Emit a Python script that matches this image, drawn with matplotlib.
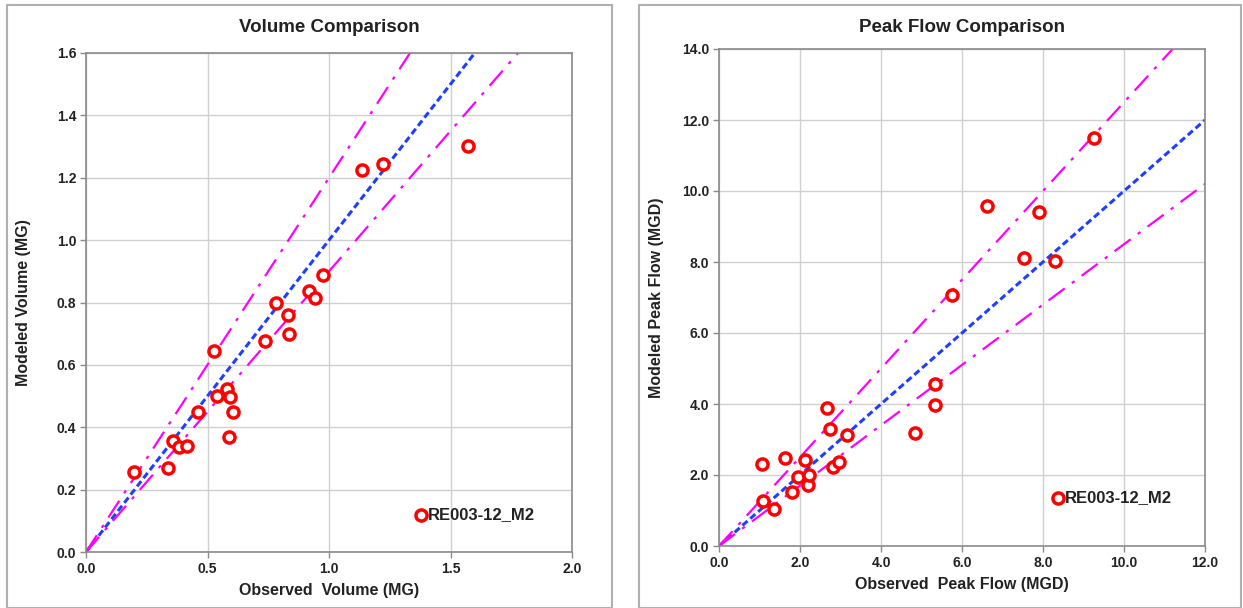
import matplotlib
matplotlib.use("Agg")
import matplotlib.pyplot as plt
from matplotlib.patches import Rectangle
import numpy as np

plt.rcParams['font.family'] = ['Liberation Sans', 'DejaVu Sans']
plt.rcParams['font.weight'] = 'bold'

series_name = "RE003-12_M2"

vol_obs = [0.199, 0.337, 0.357, 0.381, 0.417, 0.460, 0.526, 0.541, 0.579, 0.593, 0.603,
           0.590, 0.738, 0.782, 0.831, 0.835, 0.918, 0.941, 0.976, 1.136, 1.222, 1.570]
vol_mod = [0.258, 0.268, 0.357, 0.336, 0.341, 0.448, 0.646, 0.500, 0.523, 0.498, 0.448,
           0.369, 0.675, 0.797, 0.760, 0.700, 0.837, 0.816, 0.887, 1.226, 1.245, 1.301]

peak_obs = [1.07, 1.08, 1.37, 1.64, 1.81, 1.95, 2.13, 2.19, 2.21, 2.66, 2.75, 2.82,
            2.97, 3.15, 4.84, 5.33, 5.34, 5.76, 6.62, 7.53, 7.89, 8.30, 9.25]
peak_mod = [2.31, 1.26, 1.03, 2.47, 1.52, 1.95, 2.41, 1.73, 2.00, 3.90, 3.29, 2.22,
            2.36, 3.14, 3.18, 3.98, 4.56, 7.08, 9.59, 8.11, 9.42, 8.03, 11.50]

vol_bounds = [1.2, 0.9]     # upper / lower envelope factors
peak_bounds = [1.25, 0.85]

vol_xticks = [0.0, 0.5, 1.0, 1.5, 2.0]
vol_yticks = [0.0, 0.2, 0.4, 0.6, 0.8, 1.0, 1.2, 1.4, 1.6]
peak_xticks = [0.0, 2.0, 4.0, 6.0, 8.0, 10.0, 12.0]
peak_yticks = [0.0, 2.0, 4.0, 6.0, 8.0, 10.0, 12.0, 14.0]

W, H = 1243, 608
fig = plt.figure(figsize=(W / 100, H / 100), dpi=100)

# panel borders
for (x0, x1) in [(7, 612), (639, 1241)]:
    fig.patches.append(Rectangle((x0 / W, 0), (x1 - x0) / W, 1 - 5 / H,
                                 transform=fig.transFigure, fill=False,
                                 edgecolor='#b0b0b0', linewidth=1.5))

txt = '#222222'


def make_panel(px, obs, mod, bounds, xmax, ymax, xticks, yticks, title, xlabel, ylabel,
               title_y, xlabel_y, ylabel_x, legend_px):
    l, r, t, b = px
    ax = fig.add_axes([l / W, 1 - b / H, (r - l) / W, (b - t) / H])
    ax.set_xlim(0, xmax)
    ax.set_ylim(0, ymax)
    ax.set_xticks(xticks)
    ax.set_yticks(yticks)
    ax.set_xticklabels([f"{v:.1f}" for v in xticks], fontsize=10, fontweight='bold', color=txt)
    ax.set_yticklabels([f"{v:.1f}" for v in yticks], fontsize=10, fontweight='bold', color=txt)
    ax.grid(True, color='#d0d0d0', linewidth=1.0)
    ax.set_axisbelow(True)
    for s in ax.spines.values():
        s.set_color('#8a8a8a')
        s.set_linewidth(1.2)
    ax.tick_params(direction='out', length=4, color='#8a8a8a', width=1, pad=3)
    xs = np.array([0, xmax])
    ax.plot(xs, xs, color='#1f3fff', linestyle=(0, (2.2, 1.2)), linewidth=2.2, zorder=2)
    for bf in bounds:
        ax.plot(xs, bf * xs, color='#ff00ff', linestyle=(0, (9, 4, 1.5, 4)), linewidth=1.6, zorder=2)
    ax.plot(obs, mod, linestyle='none', marker='o', markersize=8, markerfacecolor='white',
            markeredgecolor='#ff0000', markeredgewidth=2.5, label=series_name, zorder=3)
    fig.text((l + r) / 2 / W, 1 - title_y / H, title, ha='center', va='center',
             fontsize=13.5, fontweight='bold', color=txt)
    fig.text((l + r) / 2 / W, 1 - xlabel_y / H, xlabel, ha='center', va='center',
             fontsize=11.5, fontweight='bold', color=txt)
    fig.text(ylabel_x / W, 1 - (t + b) / 2 / H, ylabel, ha='center', va='center',
             rotation=90, fontsize=11.5, fontweight='bold', color=txt)
    mx, my = legend_px
    ax_x = (mx - l) / (r - l)
    ax_y = (b - my) / (b - t)
    ax.plot([ax_x], [ax_y], transform=ax.transAxes, linestyle='none', marker='o', markersize=8,
            markerfacecolor='white', markeredgecolor='#ff0000', markeredgewidth=2.5,
            clip_on=False, zorder=4)
    ax.text(ax_x + 7 / (r - l), ax_y, series_name, transform=ax.transAxes, ha='left',
            va='center', fontsize=12, fontweight='bold', color=txt)
    return ax


make_panel((86, 572, 53, 552), vol_obs, vol_mod, vol_bounds, 2.0, 1.6, vol_xticks, vol_yticks,
           "Volume Comparison", "Observed  Volume (MG)", "Modeled Volume (MG)",
           27, 590, 24, (421, 515))
make_panel((719, 1205, 49, 546), peak_obs, peak_mod, peak_bounds, 12.0, 14.0, peak_xticks,
           peak_yticks, "Peak Flow Comparison", "Observed  Peak Flow (MGD)",
           "Modeled Peak Flow (MGD)", 27, 585, 657, (1058, 498))

fig.savefig("out.png", dpi=100)
